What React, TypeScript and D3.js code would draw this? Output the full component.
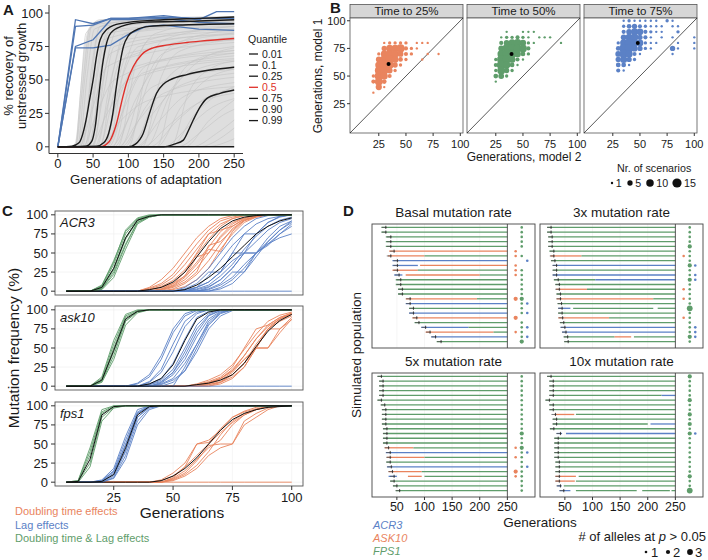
import React from "react";
import * as d3 from "d3";

const FONT = "'Liberation Sans', Arial, Helvetica, sans-serif";
const ORANGE = "#E9845E";
const GREEN = "#5F9D6B";
const BLUE = "#5B81C6";
const A_BLUE = "#4F76B3";
const AXIS = "#333333";
const TXT = "#1a1a1a";

// ---------------- Panel A data ----------------
const A_X_TICKS = [0, 50, 100, 150, 200, 250];
const A_Y_TICKS = [0, 25, 50, 75, 100];
const A_ENVELOPE: [number, number][] = [[0, 0], [20, 0], [25, 4], [30, 30], [35, 62], [40, 82], [45, 90], [55, 94], [80, 96], [150, 97], [250, 97.5]];
const A_GRAY_LINES: [number, number][][] = [
  [[0, 0], [25, 0], [35, 45], [45, 88], [60, 95], [250, 97]],
  [[0, 0], [28, 0], [38, 50], [48, 90], [80, 95], [250, 96]],
  [[0, 0], [30, 0], [42, 55], [52, 88], [100, 94], [250, 95]],
  [[0, 0], [32, 0], [45, 40], [58, 85], [120, 92], [250, 94]],
  [[0, 0], [35, 0], [48, 60], [60, 90], [250, 96]],
  [[0, 0], [38, 0], [52, 45], [65, 80], [150, 88], [250, 90]],
  [[0, 0], [40, 0], [55, 50], [70, 85], [250, 93]],
  [[0, 0], [42, 0], [58, 35], [75, 70], [150, 80], [250, 84]],
  [[0, 0], [45, 0], [60, 55], [75, 90], [250, 95]],
  [[0, 0], [48, 0], [65, 40], [80, 75], [200, 85], [250, 86]],
  [[0, 0], [50, 0], [68, 60], [85, 88], [250, 92]],
  [[0, 0], [52, 0], [70, 30], [90, 65], [250, 78]],
  [[0, 0], [55, 0], [75, 50], [95, 80], [250, 88]],
  [[0, 0], [58, 0], [80, 40], [100, 70], [250, 80]],
  [[0, 0], [60, 0], [78, 55], [95, 85], [250, 93]],
  [[0, 0], [62, 0], [85, 35], [110, 60], [250, 72]],
  [[0, 0], [65, 0], [90, 50], [115, 75], [250, 85]],
  [[0, 0], [68, 0], [95, 30], [120, 55], [250, 68]],
  [[0, 0], [70, 0], [95, 60], [120, 88], [250, 92]],
  [[0, 0], [72, 0], [100, 40], [130, 62], [250, 70]],
  [[0, 0], [75, 0], [105, 25], [135, 45], [250, 60]],
  [[0, 0], [78, 0], [105, 55], [130, 80], [250, 90]],
  [[0, 0], [80, 0], [110, 35], [140, 58], [250, 66]],
  [[0, 0], [85, 0], [115, 20], [150, 40], [250, 52]],
  [[0, 0], [88, 0], [120, 45], [150, 70], [250, 82]],
  [[0, 0], [90, 0], [125, 30], [160, 50], [250, 58]],
  [[0, 0], [95, 0], [130, 50], [160, 75], [250, 88]],
  [[0, 0], [100, 0], [135, 25], [170, 45], [250, 55]],
  [[0, 0], [105, 0], [140, 40], [175, 60], [250, 70]],
  [[0, 0], [110, 0], [145, 20], [180, 38], [250, 48]],
  [[0, 0], [115, 0], [150, 35], [185, 55], [250, 64]],
  [[0, 0], [120, 0], [155, 15], [190, 30], [250, 40]],
  [[0, 0], [125, 0], [160, 40], [195, 62], [250, 74]],
  [[0, 0], [130, 0], [170, 20], [205, 35], [250, 44]],
  [[0, 0], [140, 0], [175, 30], [210, 50], [250, 58]],
  [[0, 0], [150, 0], [185, 15], [220, 30], [250, 36]],
  [[0, 0], [160, 0], [195, 25], [230, 40], [250, 45]],
  [[0, 0], [170, 0], [205, 12], [235, 24], [250, 28]],
  [[0, 0], [180, 0], [215, 20], [250, 35]],
  [[0, 0], [190, 0], [225, 10], [250, 20]],
  [[0, 0], [200, 0], [235, 8], [250, 14]],
  [[0, 0], [210, 0], [250, 6]],
  [[0, 0], [60, 0], [90, 20], [130, 35], [250, 45]],
  [[0, 0], [45, 0], [70, 25], [100, 50], [250, 65]],
  [[0, 0], [85, 0], [110, 60], [140, 85], [250, 95]],
  [[0, 0], [100, 0], [125, 55], [150, 80], [250, 90]],
  [[0, 0], [120, 0], [145, 50], [175, 72], [250, 80]],
  [[0, 0], [140, 0], [165, 45], [195, 65], [250, 72]],
  [[0, 0], [160, 0], [185, 40], [215, 58], [250, 64]],
  [[0, 0], [35, 0], [55, 25], [80, 50], [250, 75]],
  [[0, 0], [30, 0], [50, 30], [70, 60], [250, 85]],
  [[0, 0], [25, 0], [32, 40], [40, 85], [60, 92], [250, 97]],
];
const A_BLUE_LINES: [number, number][][] = [
  [[0, 0], [25, 95], [50, 92], [75, 96], [100, 96], [150, 98], [200, 95], [225, 101], [250, 101]],
  [[0, 0], [25, 90], [50, 91], [75, 96], [100, 96], [150, 97], [200, 96], [250, 96]],
  [[0, 0], [25, 75], [50, 80], [75, 95], [100, 95], [150, 96], [200, 93], [250, 92]],
  [[0, 0], [25, 74], [50, 74], [75, 76], [100, 84], [125, 90], [150, 91], [200, 88], [250, 87]],
];
const A_QUANTILE_LABELS = ["0.01", "0.1", "0.25", "0.5", "0.75", "0.90", "0.99"];
const A_QUANTILE_COLORS = ["#1a1a1a", "#1a1a1a", "#1a1a1a", "#E0302A", "#1a1a1a", "#1a1a1a", "#1a1a1a"];
const A_QUANTILE_LINES: [number, number][][] = [
  [[0, 0], [20, 0.5], [30, 3], [40, 20], [45, 35], [50, 50], [55, 68], [60, 80], [70, 88], [80, 91], [100, 93], [150, 95], [200, 96], [250, 97]],
  [[0, 0], [40, 0.5], [48, 4], [53, 15], [58, 38], [63, 60], [68, 75], [75, 85], [90, 90], [120, 93], [200, 94], [250, 95]],
  [[0, 0], [55, 0.5], [65, 3], [72, 10], [78, 25], [83, 45], [88, 62], [93, 75], [100, 83], [110, 87], [130, 90], [170, 91], [250, 92]],
  [[0, 0], [60, 0], [73, 4], [83, 17], [92, 37], [97, 47], [107, 60], [119, 69], [135, 74], [154, 76], [183, 78], [202, 79], [250, 81]],
  [[0, 0], [100, 0], [110, 2], [121, 10], [130, 25], [140, 40], [150, 47], [159, 50], [183, 54], [211, 57], [250, 59.5]],
  [[0, 0], [150, 0], [165, 2], [178, 5], [185, 12], [192, 20], [202, 30], [211, 36], [230, 40], [250, 42.5]],
  [[0, 0], [250, 0]],
];

// ---------------- Panel B data ----------------
const B_TITLES = ["Time to 25%", "Time to 50%", "Time to 75%"];
const B_TICKS = [25, 50, 75, 100];
const B_SIZE_LEGEND = [1, 5, 10, 15];
const B_MEANS: [number, number][] = [[34, 61], [39.5, 70], [48, 80]];
const B_T25: [number, number, number][] = [
  [30, 80, 1], [35, 80, 2], [40, 80, 2], [45, 80, 2], [50, 80, 2], [60, 80, 1], [65, 80, 1], [70, 80, 1],
  [30, 75, 5], [35, 75, 9], [40, 75, 9], [45, 75, 12], [50, 75, 3], [55, 75, 2], [60, 75, 1],
  [25, 70, 2], [30, 70, 8], [35, 70, 11], [40, 70, 10], [45, 70, 6], [50, 70, 3], [55, 70, 2], [70, 70, 1], [80, 70, 1],
  [25, 65, 6], [30, 65, 13], [35, 65, 14], [40, 65, 8], [45, 65, 4], [50, 65, 2], [65, 65, 1],
  [25, 60, 9], [30, 60, 15], [35, 60, 11], [40, 60, 5], [45, 60, 2],
  [25, 55, 11], [30, 55, 13], [35, 55, 6], [40, 55, 2],
  [20, 50, 2], [25, 50, 13], [30, 50, 9], [35, 50, 3],
  [20, 45, 3], [25, 45, 11], [30, 45, 4],
  [25, 40, 7], [30, 40, 1],
  [20, 35, 1],
];
const B_T50: [number, number, number][] = [
  [35, 90, 1], [50, 90, 1], [55, 90, 1], [60, 90, 1],
  [30, 85, 1], [35, 85, 2], [40, 85, 2], [45, 85, 3], [50, 85, 2], [55, 85, 1], [65, 85, 1], [70, 85, 1], [75, 85, 1],
  [30, 80, 3], [35, 80, 6], [40, 80, 9], [45, 80, 10], [50, 80, 7], [55, 80, 2], [60, 80, 1], [85, 80, 1],
  [30, 75, 6], [35, 75, 12], [40, 75, 14], [45, 75, 10], [50, 75, 11], [55, 75, 3],
  [30, 70, 10], [35, 70, 15], [40, 70, 12], [45, 70, 8], [50, 70, 4], [55, 70, 2],
  [25, 65, 2], [30, 65, 12], [35, 65, 14], [40, 65, 8], [45, 65, 3], [50, 65, 1],
  [25, 60, 3], [30, 60, 14], [35, 60, 10], [40, 60, 4], [45, 60, 1],
  [25, 55, 2], [30, 55, 11], [35, 55, 5], [40, 55, 2],
  [25, 50, 4], [30, 50, 6], [35, 50, 2],
  [25, 45, 1],
];
const B_T75: [number, number, number][] = [
  [35, 100, 1], [40, 100, 2], [45, 100, 1], [50, 100, 1], [55, 100, 1], [60, 100, 1], [65, 100, 1], [75, 100, 2], [80, 100, 1],
  [35, 95, 2], [40, 95, 4], [45, 95, 5], [50, 95, 3], [55, 95, 2], [60, 95, 1], [65, 95, 1], [70, 95, 1], [80, 95, 1], [85, 95, 1],
  [35, 90, 3], [40, 90, 6], [45, 90, 9], [50, 90, 8], [55, 90, 3], [60, 90, 2], [65, 90, 1], [70, 90, 1], [85, 90, 2],
  [35, 85, 6], [40, 85, 9], [45, 85, 10], [50, 85, 5], [55, 85, 3], [60, 85, 1], [70, 85, 1], [80, 85, 1], [100, 85, 1],
  [30, 80, 2], [35, 80, 9], [40, 80, 13], [45, 80, 11], [50, 80, 8], [55, 80, 2], [60, 80, 1], [65, 80, 1], [85, 80, 1], [100, 80, 1],
  [30, 75, 4], [35, 75, 14], [40, 75, 13], [45, 75, 7], [50, 75, 5], [55, 75, 2], [60, 75, 1], [80, 75, 5], [85, 75, 1], [100, 75, 1],
  [30, 70, 6], [35, 70, 12], [40, 70, 9], [45, 70, 3], [50, 70, 1], [80, 70, 1],
  [30, 65, 5], [35, 65, 9], [40, 65, 5], [45, 65, 2],
  [30, 60, 4], [35, 60, 4], [40, 60, 1],
  [30, 55, 3], [35, 55, 1],
];

// ---------------- Panel C data ----------------
// each line: [generation where values start, values every 5 generations]
type CLine = [number, number[]];
const C_GENS = d3.range(5, 101, 5);
const C_X_TICKS = [25, 50, 75, 100];
const C_Y_TICKS = [0, 25, 50, 75, 100];
const C_GENES = ["ACR3", "ask10", "fps1"];

const ACR3_GREEN: CLine[] = [
  [15, [0, 8, 40, 78, 95, 99, 100]], [15, [0, 5, 30, 70, 93, 98, 100]], [15, [0, 3, 22, 60, 90, 97, 100]],
  [15, [0, 6, 35, 75, 94, 99, 100]], [15, [0, 2, 18, 55, 88, 97, 100]], [15, [0, 4, 28, 68, 92, 98, 100]],
  [15, [0, 7, 38, 80, 96, 100]], [15, [0, 3, 25, 62, 90, 98, 100]],
];
const ACR3_ORANGE: CLine[] = [
  [35, [0, 3, 8, 18, 35, 55, 75, 88, 95, 99, 100]], [35, [0, 2, 5, 10, 20, 38, 58, 78, 90, 96, 99, 100]],
  [40, [0, 2, 6, 15, 30, 50, 70, 85, 94, 98, 100]], [35, [0, 4, 10, 22, 42, 62, 80, 92, 97, 100]],
  [40, [0, 3, 8, 20, 45, 50, 72, 88, 96, 100]], [40, [0, 1, 5, 12, 25, 60, 65, 80, 93, 98, 100]],
  [45, [0, 3, 10, 22, 40, 62, 82, 93, 98, 100]], [35, [0, 2, 6, 14, 28, 48, 68, 85, 95, 99, 100]],
  [40, [0, 2, 7, 18, 35, 55, 52, 78, 92, 97, 100]], [45, [0, 2, 6, 15, 30, 55, 75, 90, 97, 100]],
  [35, [0, 5, 15, 30, 50, 70, 85, 95, 99, 100]], [40, [0, 3, 10, 25, 50, 75, 80, 85, 95, 100]],
];
const ACR3_BLUE: CLine[] = [
  [50, [0, 5, 15, 30, 50, 70, 85, 95, 99, 100, 100]], [55, [0, 5, 12, 25, 50, 50, 75, 90, 97, 100]],
  [50, [0, 3, 10, 25, 25, 50, 75, 75, 90, 98, 100]], [55, [0, 3, 8, 20, 35, 55, 72, 85, 93, 97]],
  [60, [0, 5, 15, 30, 50, 65, 80, 90, 95]], [55, [0, 2, 6, 15, 30, 50, 50, 70, 85, 92]],
  [60, [0, 3, 10, 25, 25, 50, 60, 75, 88]], [65, [0, 5, 15, 30, 50, 62, 75, 85]],
  [60, [0, 2, 8, 18, 35, 50, 62, 70, 75]], [55, [0, 5, 20, 40, 60, 75, 88, 95, 98, 100]],
  [65, [0, 3, 10, 25, 45, 65, 80, 90]], [50, [0, 2, 5, 12, 25, 40, 50, 50, 65, 80, 92]],
  [5, [0]],
];
const ACR3_MEAN: CLine[] = [
  [15, [0, 5, 30, 70, 93, 98, 100]],
  [35, [0, 2, 5, 12, 25, 45, 65, 82, 92, 97, 99, 100]],
  [50, [0, 2, 8, 18, 30, 45, 60, 75, 85, 92, 96]],
];

const ASK10_GREEN: CLine[] = [
  [15, [0, 10, 55, 92, 99, 100]], [15, [0, 6, 40, 85, 97, 100]], [15, [0, 8, 50, 90, 98, 100]],
  [15, [0, 5, 35, 80, 96, 100]], [15, [0, 12, 60, 94, 100]], [15, [0, 7, 45, 86, 98, 100]],
];
const ASK10_BLUE: CLine[] = [
  [30, [0, 3, 12, 35, 70, 92, 99, 100]], [35, [0, 5, 18, 45, 78, 95, 100]],
  [35, [0, 2, 8, 22, 50, 80, 95, 100]], [35, [0, 3, 10, 30, 62, 90, 98, 100]],
  [40, [0, 5, 18, 45, 75, 93, 99, 100]], [40, [0, 3, 10, 30, 55, 82, 96, 100]],
  [35, [0, 6, 22, 55, 85, 97, 100]], [40, [0, 2, 8, 20, 45, 75, 92, 99, 100]],
  [30, [0, 4, 15, 40, 75, 95, 100]], [40, [0, 4, 15, 35, 65, 88, 98, 100]],
  [45, [0, 5, 20, 50, 80, 95, 100]], [50, [0, 25, 55, 85, 97, 100]],
  [35, [0, 2, 6, 18, 40, 70, 92, 99, 100]], [5, [0]],
];
const ASK10_ORANGE: CLine[] = [
  [55, [0, 3, 8, 15, 28, 48, 68, 85, 93, 97]], [55, [0, 2, 5, 10, 20, 35, 50, 75, 88, 95]],
  [60, [0, 3, 8, 18, 35, 50, 75, 85, 92]], [60, [0, 2, 5, 12, 25, 50, 50, 75, 87]],
  [55, [0, 2, 6, 12, 25, 50, 75, 80, 90, 96]], [60, [0, 4, 10, 22, 40, 62, 78, 88, 94]],
  [65, [0, 3, 10, 25, 50, 50, 70, 88]], [60, [0, 2, 6, 15, 30, 55, 75, 75, 90]],
  [55, [0, 1, 4, 10, 20, 40, 62, 80, 90, 95]], [65, [0, 5, 15, 30, 50, 75, 88, 95]],
];
const ASK10_MEAN: CLine[] = [
  [15, [0, 8, 47, 88, 98, 100]],
  [35, [0, 3, 10, 28, 60, 88, 97, 100]],
  [55, [0, 2, 4, 8, 15, 30, 52, 72, 86, 94]],
];

const FPS1_GREEN: CLine[] = [
  [5, [0, 2, 40, 92, 100]], [5, [0, 1, 25, 85, 98, 100]], [5, [0, 1, 35, 90, 99, 100]],
  [5, [0, 0, 20, 80, 97, 100]], [5, [0, 2, 45, 95, 100]],
];
const FPS1_BLUE: CLine[] = [
  [15, [0, 2, 15, 55, 92, 100]], [15, [0, 0, 8, 40, 85, 98, 100]], [15, [0, 1, 12, 50, 90, 99, 100]],
  [15, [0, 0, 5, 30, 75, 95, 100]], [15, [0, 3, 18, 60, 95, 100]], [15, [0, 1, 10, 42, 85, 99, 100]],
  [15, [0, 0, 6, 35, 80, 97, 100]], [15, [0, 2, 14, 48, 90, 100]],
];
const FPS1_ORANGE: CLine[] = [
  [40, [0, 3, 12, 25, 50, 52, 70, 85, 92, 96, 99, 100]], [45, [0, 5, 15, 30, 45, 55, 75, 88, 95, 99, 100]],
  [45, [0, 3, 10, 22, 40, 62, 80, 90, 95, 99, 100]], [45, [0, 4, 12, 28, 48, 50, 50, 80, 90, 97, 100]],
  [40, [0, 2, 8, 20, 35, 50, 65, 78, 88, 95, 99, 100]], [45, [0, 6, 20, 50, 55, 68, 85, 93, 98, 100]],
  [45, [0, 2, 8, 18, 35, 45, 50, 75, 85, 95, 100]], [5, [0]],
];
const FPS1_MEAN: CLine[] = [
  [5, [0, 1, 30, 88, 99, 100]],
  [15, [0, 1, 10, 45, 88, 99, 100]],
  [40, [0, 2, 8, 18, 32, 50, 68, 82, 90, 95, 98, 99, 100]],
];
const C_LEGEND = ["Doubling time effects", "Lag effects", "Doubling time & Lag effects"];

// ---------------- Panel D data ----------------
// row: [appearance generation, segments [gene, from, to], allele dots [ASK10, FPS1, ACR3]]
type DRow = [number, [string, number, number][], [number, number, number]];
const D_TITLES = ["Basal mutation rate", "3x mutation rate", "5x mutation rate", "10x mutation rate"];
const D_X_TICKS = [50, 100, 150, 200, 250];
const D_BASAL: DRow[] = [
  [30, [["G", 22, 250]], [0, 1, 0]],
  [30, [["G", 22, 250]], [0, 1, 0]],
  [39, [["G", 30, 250]], [0, 1, 0]],
  [39, [["G", 30, 250]], [0, 1, 0]],
  [39, [["G", 30, 250]], [0, 1, 0]],
  [45, [["O", 36, 250]], [1, 0, 0]],
  [39, [["O", 34, 100], ["G", 100, 250]], [1, 1, 0]],
  [51, [["B", 42, 250]], [0, 0, 1]],
  [51, [["B", 42, 88], ["O", 92, 250]], [1, 0, 0]],
  [51, [["O", 42, 88], ["G", 88, 250]], [1, 1, 0]],
  [54, [["B", 45, 60], ["O", 66, 200], ["G", 200, 250]], [1, 1, 0]],
  [57, [["G", 48, 250]], [0, 1, 0]],
  [57, [["G", 48, 250]], [0, 1, 0]],
  [60, [["G", 52, 250]], [0, 1, 0]],
  [60, [["G", 52, 250]], [0, 1, 0]],
  [74, [["O", 66, 195], ["G", 195, 250]], [2, 2, 0]],
  [74, [["B", 66, 250]], [0, 1, 1]],
  [80, [["G", 72, 250]], [0, 1, 0]],
  [80, [["B", 72, 250]], [0, 1, 1]],
  [86, [["O", 78, 250]], [2, 0, 0]],
  [90, [["G", 82, 250]], [0, 1, 0]],
  [102, [["B", 94, 180], ["G", 180, 250]], [0, 1, 1]],
  [110, [["O", 102, 225], ["G", 225, 250]], [1, 1, 0]],
  [120, [["B", 112, 250]], [0, 1, 1]],
  [130, [["G", 122, 250]], [0, 2, 0]],
];
const D_3X: DRow[] = [
  [25, [["G", 18, 250]], [0, 1, 0]],
  [25, [["G", 18, 250]], [0, 1, 0]],
  [27, [["G", 20, 250]], [0, 1, 0]],
  [27, [["G", 20, 250]], [0, 1, 0]],
  [27, [["G", 20, 250]], [0, 2, 0]],
  [30, [["G", 22, 250]], [0, 1, 0]],
  [30, [["O", 24, 80], ["G", 80, 250]], [1, 1, 0]],
  [32, [["G", 25, 250]], [0, 1, 0]],
  [35, [["B", 28, 250]], [0, 2, 1]],
  [35, [["G", 28, 250]], [0, 1, 0]],
  [35, [["B", 28, 250]], [0, 1, 1]],
  [38, [["G", 30, 105], ["B", 105, 250]], [0, 2, 1]],
  [40, [["G", 33, 250]], [0, 1, 0]],
  [40, [["O", 34, 90], ["G", 90, 250]], [1, 1, 0]],
  [42, [["G", 35, 250]], [0, 1, 0]],
  [42, [["O", 35, 210], ["G", 210, 250]], [1, 1, 0]],
  [44, [["G", 37, 250]], [0, 1, 0]],
  [45, [["B", 38, 60], ["G", 65, 210], ["G", 218, 250]], [0, 3, 0]],
  [45, [["G", 38, 250]], [0, 1, 0]],
  [46, [["O", 38, 130], ["G", 130, 250]], [1, 1, 0]],
  [48, [["G", 41, 250]], [0, 1, 0]],
  [50, [["B", 42, 250]], [0, 1, 1]],
  [52, [["B", 45, 250]], [0, 1, 1]],
  [55, [["G", 48, 140], ["O", 140, 170], ["G", 175, 250]], [0, 2, 1]],
  [56, [["G", 49, 250]], [0, 1, 0]],
];
const D_5X: DRow[] = [
  [22, [["G", 15, 250]], [0, 1, 0]],
  [25, [["G", 18, 250]], [0, 1, 0]],
  [25, [["G", 18, 250]], [0, 1, 0]],
  [25, [["G", 18, 250]], [0, 1, 0]],
  [25, [["G", 18, 250]], [0, 1, 0]],
  [22, [["G", 15, 250]], [0, 1, 0]],
  [28, [["G", 21, 250]], [0, 1, 0]],
  [30, [["G", 23, 250]], [0, 1, 0]],
  [30, [["G", 23, 250]], [0, 1, 0]],
  [30, [["G", 23, 250]], [0, 1, 0]],
  [30, [["G", 23, 250]], [0, 1, 0]],
  [32, [["G", 25, 250]], [0, 1, 0]],
  [32, [["G", 25, 250]], [0, 2, 0]],
  [32, [["G", 25, 250]], [0, 1, 0]],
  [32, [["G", 25, 250]], [0, 1, 0]],
  [35, [["O", 28, 80], ["G", 80, 250]], [1, 2, 0]],
  [38, [["B", 30, 250]], [0, 1, 1]],
  [38, [["O", 32, 100], ["G", 100, 250]], [1, 1, 0]],
  [38, [["G", 31, 250]], [0, 1, 0]],
  [40, [["B", 32, 250]], [0, 1, 1]],
  [42, [["O", 35, 95], ["G", 95, 250]], [2, 1, 0]],
  [45, [["B", 35, 50], ["O", 70, 95], ["G", 100, 250]], [1, 1, 0]],
  [45, [["G", 38, 250]], [0, 1, 0]],
  [50, [["G", 43, 250]], [0, 1, 0]],
  [55, [["G", 48, 250]], [0, 1, 0]],
];
const D_10X: DRow[] = [
  [25, [["G", 18, 250]], [0, 2, 0]],
  [29, [["G", 22, 250]], [0, 1, 0]],
  [29, [["G", 22, 250]], [0, 1, 0]],
  [29, [["G", 22, 250]], [0, 1, 0]],
  [29, [["G", 22, 225], ["B", 225, 250]], [0, 1, 0]],
  [22, [["G", 15, 250]], [0, 2, 0]],
  [29, [["G", 22, 250]], [0, 1, 0]],
  [29, [["G", 22, 250]], [0, 1, 0]],
  [33, [["O", 31, 67], ["G", 70, 250]], [0, 2, 0]],
  [35, [["G", 28, 250]], [0, 1, 0]],
  [35, [["G", 28, 200], ["B", 205, 250]], [0, 2, 0]],
  [30, [["G", 23, 250]], [0, 1, 0]],
  [42, [["B", 35, 45], ["B", 52, 250]], [0, 2, 1]],
  [38, [["G", 31, 250]], [0, 1, 0]],
  [38, [["G", 31, 250]], [0, 1, 0]],
  [38, [["G", 31, 250]], [0, 1, 0]],
  [38, [["G", 31, 250]], [0, 1, 0]],
  [38, [["G", 31, 250]], [0, 1, 0]],
  [40, [["G", 33, 250]], [0, 1, 0]],
  [40, [["G", 33, 250]], [0, 1, 0]],
  [40, [["G", 33, 250]], [0, 1, 0]],
  [40, [["O", 33, 70], ["G", 75, 250]], [0, 2, 0]],
  [40, [["O", 33, 68], ["G", 70, 250]], [0, 1, 0]],
  [42, [["B", 36, 44], ["G", 48, 250]], [0, 1, 0]],
  [48, [["B", 40, 60], ["G", 70, 180], ["G", 190, 240], ["G", 243, 250]], [0, 3, 0]],
];
const D_LEGEND = ["ACR3", "ASK10", "FPS1"];
const D_SIZE_LEGEND = [1, 2, 3];

const GENE_COLOR: Record<string, string> = { O: ORANGE, G: GREEN, B: BLUE };

// ---------------- Panels ----------------
function PanelA() {
  const x = d3.scaleLinear().domain([-12.5, 262.5]).range([49, 243]);
  const y = d3.scaleLinear().domain([-5, 106]).range([153.5, 5]);
  const smooth = d3.line<[number, number]>().x((d) => x(d[0])).y((d) => y(d[1])).curve(d3.curveMonotoneX);
  const straight = d3.line<[number, number]>().x((d) => x(d[0])).y((d) => y(d[1]));
  const area = d3.area<[number, number]>().x((d) => x(d[0])).y0(y(0)).y1((d) => y(d[1])).curve(d3.curveMonotoneX);
  return (
    <g>
      <text x={3} y={15} fontSize={15} fontWeight="bold" fill={TXT}>A</text>
      <path d={area(A_ENVELOPE) || ""} fill="#dedede" />
      {A_GRAY_LINES.map((l, i) => (
        <path key={i} d={smooth(l) || ""} fill="none" stroke="#c4c4c4" strokeWidth={0.6} />
      ))}
      {A_BLUE_LINES.map((l, i) => (
        <path key={i} d={straight(l) || ""} fill="none" stroke={A_BLUE} strokeWidth={1.3} />
      ))}
      {A_QUANTILE_LINES.map((l, i) => (
        <path key={i} d={smooth(l) || ""} fill="none" stroke={A_QUANTILE_COLORS[i]} strokeWidth={1.4} />
      ))}
      <line x1={49} x2={49} y1={5} y2={153.5} stroke={AXIS} strokeWidth={1} />
      <line x1={49} x2={243} y1={153.5} y2={153.5} stroke={AXIS} strokeWidth={1} />
      {A_Y_TICKS.map((t) => (
        <g key={t}>
          <line x1={45} x2={49} y1={y(t)} y2={y(t)} stroke={AXIS} />
          <text x={43} y={y(t) + 4.5} fontSize={13} textAnchor="end" fill={TXT}>{t}</text>
        </g>
      ))}
      {A_X_TICKS.map((t) => (
        <g key={t}>
          <line x1={x(t)} x2={x(t)} y1={153.5} y2={157.5} stroke={AXIS} />
          <text x={x(t)} y={167.5} fontSize={13} textAnchor="middle" fill={TXT}>{t}</text>
        </g>
      ))}
      <text x={146} y={184} fontSize={13.2} textAnchor="middle" fill={TXT}>Generations of adaptation</text>
      <text transform="translate(12.5,76) rotate(-90)" fontSize={13} textAnchor="middle" fill={TXT}>% recovery of</text>
      <text transform="translate(25.5,76) rotate(-90)" fontSize={13} textAnchor="middle" fill={TXT}>unstressed growth</text>
      <text x={248} y={43} fontSize={10.5} fill={TXT}>Quantile</text>
      {A_QUANTILE_LABELS.map((q, i) => {
        const cy = 54 + i * 11.1;
        return (
          <g key={q}>
            <line x1={249} x2={258} y1={cy} y2={cy} stroke={A_QUANTILE_COLORS[i]} strokeWidth={1.3} />
            <text x={262} y={cy + 3.7} fontSize={10.5} fill={i === 3 ? "#E0302A" : TXT}>{q}</text>
          </g>
        );
      })}
    </g>
  );
}

function PanelB() {
  const data = [B_T25, B_T50, B_T75];
  const colors = [ORANGE, GREEN, BLUE];
  const x0s = [350, 467, 584];
  const W = 113;
  const top = 18;
  const bottom = 133;
  const r = d3.scaleSqrt().domain([0, 15]).range([0, 4.6]);
  const y = d3.scaleLinear().domain([-1.5, 102.5]).range([bottom, top]);
  return (
    <g>
      <text x={330} y={13} fontSize={15} fontWeight="bold" fill={TXT}>B</text>
      {data.map((pts, k) => {
        const x = d3.scaleLinear().domain([-1.5, 102.5]).range([x0s[k], x0s[k] + W]);
        return (
          <g key={k}>
            <rect x={x0s[k]} y={4.5} width={W} height={top - 4.5} fill="#d6d6d6" stroke="#555" strokeWidth={0.8} />
            <text x={x0s[k] + W / 2} y={15} fontSize={11.5} textAnchor="middle" fill={TXT}>{B_TITLES[k]}</text>
            <rect x={x0s[k]} y={top} width={W} height={bottom - top} fill="#fff" stroke="#555" strokeWidth={0.8} />
            <line x1={x(-1.5)} y1={y(-1.5)} x2={x(102.5)} y2={y(102.5)} stroke="#111" strokeWidth={0.7} />
            {pts.map((p, i) => (
              <circle key={i} cx={x(p[0])} cy={y(p[1])} r={r(p[2])} fill={colors[k]} />
            ))}
            <circle cx={x(B_MEANS[k][0])} cy={y(B_MEANS[k][1])} r={2} fill="#000" />
            {B_TICKS.map((t) => (
              <g key={t}>
                <line x1={x(t)} x2={x(t)} y1={bottom} y2={bottom + 3} stroke={AXIS} />
                <text x={x(t)} y={148} fontSize={11} textAnchor="middle" fill={TXT}>{t}</text>
              </g>
            ))}
          </g>
        );
      })}
      {B_TICKS.map((t) => (
        <g key={t}>
          <line x1={347} x2={350} y1={y(t)} y2={y(t)} stroke={AXIS} />
          <text x={345.5} y={y(t) + 4} fontSize={11} textAnchor="end" fill={TXT}>{t}</text>
        </g>
      ))}
      <text transform="translate(322,76) rotate(-90)" fontSize={12} textAnchor="middle" fill={TXT}>Generations, model 1</text>
      <text x={524} y={161} fontSize={12} textAnchor="middle" fill={TXT}>Generations, model 2</text>
      <text x={617} y={172} fontSize={10.7} fill={TXT}>Nr. of scenarios</text>
      {B_SIZE_LEGEND.map((n, i) => {
        const cx = [612, 630, 650, 677][i];
        return (
          <g key={n}>
            <circle cx={cx} cy={183} r={r(n)} fill="#111" />
            <text x={cx + r(n) + 2.5} y={187} fontSize={10.7} fill={TXT}>{n}</text>
          </g>
        );
      })}
    </g>
  );
}

function expand(l: CLine): [number, number][] {
  const [start, vals] = l;
  return C_GENS.map((g) => {
    if (g < start) return [g, 0] as [number, number];
    const i = Math.round((g - start) / 5);
    return [g, i < vals.length ? vals[i] : vals[vals.length - 1]] as [number, number];
  });
}

function PanelC() {
  const facets = [
    { g: ACR3_GREEN, o: ACR3_ORANGE, b: ACR3_BLUE, m: ACR3_MEAN },
    { g: ASK10_GREEN, o: ASK10_ORANGE, b: ASK10_BLUE, m: ASK10_MEAN },
    { g: FPS1_GREEN, o: FPS1_ORANGE, b: FPS1_BLUE, m: FPS1_MEAN },
  ];
  const tops = [211, 306, 402];
  const H = 84;
  const x = d3.scaleLinear().domain([0.25, 104.75]).range([55, 303]);
  return (
    <g>
      <text x={2} y={216} fontSize={15} fontWeight="bold" fill={TXT}>C</text>
      {facets.map((f, k) => {
        const y = d3.scaleLinear().domain([-5, 105]).range([tops[k] + H, tops[k]]);
        const line = d3.line<[number, number]>().x((d) => x(d[0])).y((d) => y(d[1]));
        const group = (ls: CLine[], col: string, w: number) =>
          ls.map((l, i) => <path key={col + i} d={line(expand(l)) || ""} fill="none" stroke={col} strokeWidth={w} />);
        return (
          <g key={k}>
            <rect x={55} y={tops[k]} width={248} height={H} fill="#fff" />
            {C_X_TICKS.map((t) => (
              <line key={"gx" + t} x1={x(t)} x2={x(t)} y1={tops[k]} y2={tops[k] + H} stroke="#efefef" strokeWidth={0.6} />
            ))}
            {C_Y_TICKS.map((t) => (
              <line key={"gy" + t} x1={55} x2={303} y1={y(t)} y2={y(t)} stroke="#efefef" strokeWidth={0.6} />
            ))}
            {group(f.o, ORANGE, 0.9)}
            {group(f.b, BLUE, 0.9)}
            {group(f.g, GREEN, 0.9)}
            {group(f.m, "#111", 1)}
            <rect x={55} y={tops[k]} width={248} height={H} fill="none" stroke="#555" strokeWidth={0.9} />
            <text x={60} y={tops[k] + 16} fontSize={13} fontStyle="italic" fill={TXT}>{C_GENES[k]}</text>
            {C_Y_TICKS.map((t) => (
              <g key={t}>
                <line x1={51} x2={55} y1={y(t)} y2={y(t)} stroke={AXIS} />
                <text x={48} y={y(t) + 4.5} fontSize={13} textAnchor="end" fill={TXT}>{t}</text>
              </g>
            ))}
          </g>
        );
      })}
      {C_X_TICKS.map((t) => (
        <g key={t}>
          <line x1={x(t)} x2={x(t)} y1={486} y2={490} stroke={AXIS} />
          <text x={x(t)} y={502} fontSize={13} textAnchor="middle" fill={TXT}>{t}</text>
        </g>
      ))}
      <text x={182} y={518} fontSize={15.5} textAnchor="middle" fill={TXT}>Generations</text>
      <text transform="translate(19,348) rotate(-90)" fontSize={15.5} textAnchor="middle" fill={TXT}>Mutation frequency (%)</text>
      {C_LEGEND.map((t, i) => (
        <text key={t} x={15} y={515 + i * 13.5} fontSize={11} fill={[ORANGE, BLUE, GREEN][i]}>{t}</text>
      ))}
    </g>
  );
}

function PanelD() {
  const boxes = [
    { x0: 372, x1: 535, y0: 224, y1: 348, rows: D_BASAL },
    { x0: 540, x1: 703, y0: 224, y1: 348, rows: D_3X },
    { x0: 372, x1: 535, y0: 373, y1: 497, rows: D_5X },
    { x0: 540, x1: 703, y0: 373, y1: 497, rows: D_10X },
  ];
  const dotGen = [265, 276, 286];
  const dotR = [0, 1.3, 2.1, 2.9];
  const dotCols = [ORANGE, GREEN, BLUE];
  return (
    <g>
      <text x={343} y={216} fontSize={15} fontWeight="bold" fill={TXT}>D</text>
      {boxes.map((b, k) => {
        const x = d3.scaleLinear().domain([5, 300]).range([b.x0, b.x1]);
        const band = d3.scaleBand<number>().domain(d3.range(b.rows.length)).range([b.y0 + 1, b.y1 - 4]);
        const bw = band.bandwidth();
        return (
          <g key={k}>
            <text x={(b.x0 + b.x1) / 2} y={b.y0 - 7} fontSize={13.5} textAnchor="middle" fill={TXT}>{D_TITLES[k]}</text>
            {D_X_TICKS.slice(0, 4).map((t) => (
              <line key={t} x1={x(t)} x2={x(t)} y1={b.y0} y2={b.y1} stroke="#f0f0f0" strokeWidth={0.6} />
            ))}
            {b.rows.map((row, i) => {
              const cy = (band(i) || 0) + bw / 2;
              const [m, segs, dots] = row;
              return (
                <g key={i}>
                  {segs.map((s, j) => (
                    <line key={j} x1={x(s[1])} x2={x(s[2])} y1={cy} y2={cy} stroke={GENE_COLOR[s[0]]} strokeWidth={1.3} />
                  ))}
                  <line x1={x(m) - 4} x2={x(m) + 1} y1={cy} y2={cy} stroke="#555" strokeWidth={0.8} />
                  <line x1={x(m)} x2={x(m)} y1={cy - 1.6} y2={cy + 1.6} stroke="#222" strokeWidth={0.8} />
                  {dots.map((d, j) =>
                    d > 0 ? <circle key={"d" + j} cx={x(dotGen[j])} cy={cy} r={dotR[d]} fill={dotCols[j]} /> : null
                  )}
                </g>
              );
            })}
            <line x1={x(250)} x2={x(250)} y1={b.y0} y2={b.y1} stroke="#444" strokeWidth={0.9} />
            <rect x={b.x0} y={b.y0} width={b.x1 - b.x0} height={b.y1 - b.y0} fill="none" stroke="#444" strokeWidth={0.9} />
            {k >= 2 &&
              D_X_TICKS.map((t) => (
                <g key={"t" + t}>
                  <line x1={x(t)} x2={x(t)} y1={b.y1} y2={b.y1 + 3} stroke={AXIS} />
                  <text x={x(t)} y={511} fontSize={12.5} textAnchor="middle" fill={TXT}>{t}</text>
                </g>
              ))}
          </g>
        );
      })}
      <text transform="translate(360.5,355) rotate(-90)" fontSize={13.5} textAnchor="middle" fill={TXT}>Simulated population</text>
      <text x={540} y={526.5} fontSize={13.5} textAnchor="middle" fill={TXT}>Generations</text>
      {D_LEGEND.map((t, i) => (
        <text key={t} x={373} y={529 + i * 12.8} fontSize={11} fontStyle="italic" fill={[BLUE, ORANGE, GREEN][i]}>{t}</text>
      ))}
      <text x={706} y={541} fontSize={13} textAnchor="end" fill={TXT}>
        # of alleles at <tspan fontStyle="italic">p</tspan> &gt; 0.05
      </text>
      {D_SIZE_LEGEND.map((n, i) => {
        const cx = [646, 668, 690][i];
        return (
          <g key={n}>
            <circle cx={cx} cy={552} r={dotR[n]} fill="#111" />
            <text x={cx + 5} y={556.5} fontSize={13} fill={TXT}>{n}</text>
          </g>
        );
      })}
    </g>
  );
}

export default function App() {
  return (
    <svg
      width={708}
      height={560}
      viewBox="0 0 708 560"
      style={{ position: "fixed", left: 0, top: 0, background: "#fff" }}
      fontFamily={FONT}
    >
      <rect width={708} height={560} fill="#fff" />
      <PanelA />
      <PanelB />
      <PanelC />
      <PanelD />
    </svg>
  );
}
